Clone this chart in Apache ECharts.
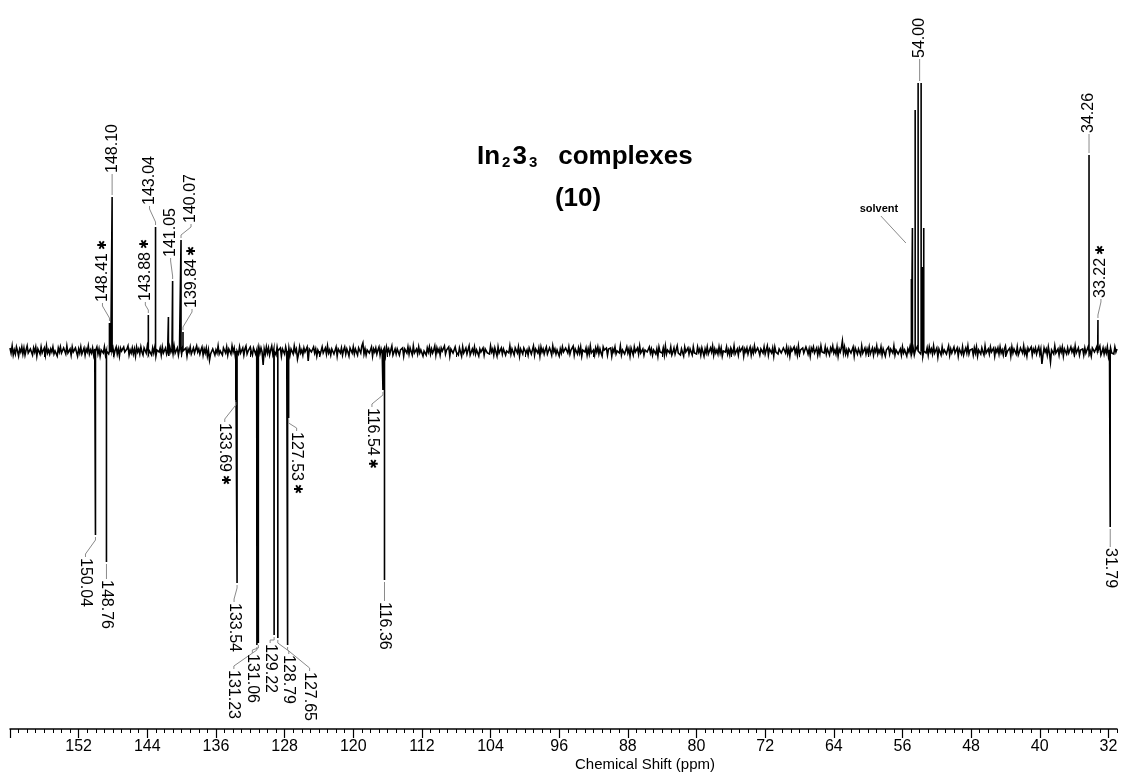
<!DOCTYPE html>
<html>
<head>
<meta charset="utf-8">
<title>In2 3_3 complexes (10) – 13C APT spectrum</title>
<script src="https://cdn.jsdelivr.net/npm/echarts@6/dist/echarts.min.js"></script>
<style>
  html, body { margin: 0; padding: 0; background: #fff; }
  #chart { width: 1121px; height: 781px; }
</style>
</head>
<body>
<div id="chart"></div>
<script>
// ---- chemical-shift axis (ppm) ----
const shiftMax = 160;
const shiftMin = 31;
const majorTicks = [160, 152, 144, 136, 128, 120, 112, 104, 96, 88, 80, 72, 64, 56, 48, 40, 32];
const mediumTicks = [156, 148, 140, 132, 124, 116, 108, 100, 92, 84, 76, 68, 60, 52, 44, 36];
const tickLabels = [152, 144, 136, 128, 120, 112, 104, 96, 88, 80, 72, 64, 56, 48, 40, 32];

// ---- resonances: position (ppm) and signed intensity (a.u., CH/CH3 negative) ----
const peakShift = [
  150.04, 148.76, 148.41, 148.10, 143.88, 143.04, 141.54, 141.05, 140.07, 139.84,
  133.69, 133.54, 131.23, 131.06, 129.22, 128.79, 127.65, 127.53, 116.54, 116.36,
  54.96, 54.84, 54.52, 54.175, 53.825, 53.64, 53.52,
  34.26, 33.22, 31.79
];
const peakIntensity = [
  -184, -211, 28, 154, 36, 124, 34, 70, 111, 19,
  -49, -232, -294, -292, -284, -287, -294, -67, -39, -229,
  72, 123, 241, 268, 268, 84, 123,
  196, 31, -176
];

// ---- baseline noise, sampled every 0.125 ppm from 160 ppm downwards (one row = 5 ppm) ----
const noiseStart = 160;
const noiseStep = 0.125;
const noise = [
  3,-2,5,-4,1,-3,4,0,-5,2,-1,4,-3,3,-4,1,5,-2,-3,2,0,-4,3,-1,4,-5,2,1,-3,4,-2,-1,3,-4,5,-2,1,-3,2,-1,
  4,-3,0,2,-5,3,-1,4,-2,-4,3,1,-3,5,-2,0,2,-4,4,-1,-3,3,1,-5,2,-2,4,-3,0,3,-4,2,-1,5,-3,1,-2,3,-4,2,
  -1,4,-3,2,-5,1,3,-2,4,-4,0,2,-3,5,-1,-2,3,-4,1,4,-3,2,-5,3,0,-2,4,-1,-3,2,5,-4,1,-2,3,-3,2,-5,4,-1,
  2,-3,4,-1,-4,3,1,-2,5,-3,0,2,-4,3,-2,4,-5,1,2,-1,3,-4,4,-2,0,3,-3,1,-5,4,-1,2,-3,5,-2,-1,3,-4,2,0,
  -3,4,-2,1,3,-5,2,-1,4,-3,0,3,-2,-4,5,-1,2,-3,1,4,-4,2,-2,3,-5,1,-9,-3,-1,2,3,-4,1,-2,5,-3,0,2,-4,3,
  1,-2,4,-4,2,0,-3,5,-1,3,-5,2,1,-3,4,-2,-1,3,-4,2,5,-3,0,-2,4,-1,-4,3,2,-3,1,-5,4,-2,3,-1,-14,2,-3,4,
  -2,3,-4,1,5,-3,2,-1,-4,4,0,-2,3,-5,2,1,-3,4,-1,-2,3,-4,2,0,-3,5,-1,2,-8,-3,4,-2,1,-4,3,-1,-2,4,-10,2,
  3,-1,-3,4,-2,2,-5,1,3,-4,0,4,-2,-1,3,-3,5,-2,1,-4,2,3,-3,-1,4,-5,2,0,-2,3,-4,1,4,-3,2,-1,-5,3,1,-2,
  4,-3,2,-1,-4,3,1,-2,5,8,-3,2,-4,1,3,-2,0,4,-5,2,-1,3,-3,1,4,-4,2,-2,0,3,-5,4,-1,2,-3,1,5,-4,-1,2,
  -3,2,4,-4,1,-1,3,-5,2,0,-2,4,-3,3,1,-4,5,-2,-1,2,-3,4,-2,1,3,-5,0,2,-4,3,-1,4,-3,2,-2,1,5,-4,3,-1,
  2,-4,3,0,-2,5,-3,1,-1,4,-5,2,3,-2,-3,4,-1,1,-4,3,2,-5,4,-2,0,3,-3,1,5,-4,-1,2,-2,4,-3,1,3,-5,2,-1,
  -1,3,-4,2,4,-2,0,-3,5,-1,2,-4,3,1,-5,4,-2,-1,3,-3,2,4,-4,0,1,-2,5,-3,2,-1,-4,3,1,-2,4,-5,2,0,-3,3,
  4,-2,1,-4,3,2,-3,-1,5,-4,2,0,-2,3,-5,4,-1,2,-3,1,4,-3,-2,3,0,-4,5,-1,2,-3,1,3,-5,2,-2,4,-1,-3,3,1,
  -2,4,-3,1,-1,5,-4,2,0,-3,3,-2,4,-5,1,2,-1,3,-4,2,-3,5,-2,0,1,-4,3,-1,4,-3,2,-2,-5,4,1,-1,3,-4,2,0,
  3,-5,2,-1,4,-3,0,2,-2,5,-4,1,3,-3,-1,4,-2,2,-5,3,1,-4,4,-1,-2,3,-3,5,-2,0,2,-4,1,3,-1,-3,4,-2,2,-4,
  1,3,-3,2,-5,4,-1,0,-2,3,-4,5,-3,1,2,-2,4,-4,-1,3,-3,1,5,-2,0,-4,2,3,-5,4,-1,-2,3,-3,2,1,-4,4,-2,0,
  -3,4,-1,2,-4,3,1,-5,2,-2,4,-3,0,3,-1,5,-4,2,-2,1,-3,4,-2,3,-5,0,2,-1,4,-3,1,-4,3,2,-2,5,-3,-1,2,-4,
  3,0,-2,4,-5,2,-1,3,-3,1,4,-4,2,-2,5,-1,-3,3,0,-4,2,1,-2,4,-3,-1,5,-4,2,0,-2,3,-5,4,-1,1,-3,2,3,-2,
  -4,3,1,-2,4,-3,2,-5,3,0,-1,4,-2,2,-4,5,-3,1,-1,3,-2,-4,4,1,-3,2,-5,3,0,4,-2,-1,3,-4,2,-3,5,-1,1,-2,
  4,-3,2,-1,-4,3,0,5,-2,1,-3,4,-5,2,-1,3,10,-2,4,-3,1,-4,2,3,-2,-1,4,-5,3,0,-3,2,1,-4,5,-2,-1,3,-3,2,
  -2,4,-3,0,3,-4,2,-1,5,-3,1,-2,4,-4,2,3,-5,1,-1,4,-3,2,0,-2,5,-4,1,3,-3,-1,2,-4,4,-2,1,3,-5,2,-1,4,
  -3,1,3,-4,2,-2,5,-1,0,-3,4,-5,2,1,-2,3,-4,4,-1,2,-3,5,-2,-1,3,-6,2,0,-4,4,-2,1,3,-3,-1,5,-4,2,-2,1,
  4,-2,-1,3,-5,2,1,-3,4,-4,0,3,-2,5,-3,1,-1,2,-4,3,-2,4,-5,1,2,-3,3,-1,-4,5,-2,0,2,-3,4,-1,-2,3,-5,2,
  -1,3,-3,4,-2,1,-4,2,5,-3,0,-1,3,-5,4,-2,2,1,-3,4,-4,-1,3,2,-2,5,-3,1,-5,3,0,-2,4,-4,2,-1,3,-3,1,4,
  -3,2,-13,-4,3,-1,2,-4,4,-2,-11,1,3,-3,5,-2,0,2,-4,3,-1,4,-5,2,1,-3,3,-2,-4,4,-1,2,-3,5,-2,0,3,-4,1,-1,
  2,-4,3,-2,1,4,-3,0,-5,3,2,-1,-3,4,-2,1,5,-4,-1,3,-3,2,-2,4,-5,1,3,-2,0,-3,4,-1,2
];

// ---- peak labels (a trailing * marks the minor isomer) ----
const peakLabels = [
  '150.04', '148.76', '148.41*', '148.10', '143.88*', '143.04', '141.05', '140.07', '139.84*',
  '133.69*', '133.54', '131.23', '131.06', '129.22', '128.79', '127.65', '127.53*',
  '116.54*', '116.36', '54.00', '34.26', '33.22*', '31.79'
];
// label placement: [horizontal shift of the label column, distance from peak tip] in px
const labelLayout = [
  [-10, 23], [0, 18], [-7, 21], [0, 24], [-3, 14], [-6, 22], [-2, 24], [10, 17], [9, 24],
  [-11, 23], [-3, 20], [-23, 25], [-6, 11], [-4, 9], [11, 17], [22, 27], [8, 14],
  [-11, 18], [0, 22], [0, 25], [0, 22], [3, 22], [0, 21]
];

// spectrum polyline: noise samples plus one vertical spike per resonance
const spectrum = noise.map((v, i) => [noiseStart - i * noiseStep, v]);
peakShift.forEach((p, i) => {
  spectrum.push([p, 0], [p, peakIntensity[i]], [p, 0]);
});
spectrum.sort((a, b) => b[0] - a[0]);

// tip intensity for a label: the resonance nearest to the quoted shift
function tipIntensity(ppm) {
  let bestIdx = 0, bestDist = Infinity;
  peakShift.forEach((p, i) => {
    const d = Math.abs(p - ppm);
    if (d < bestDist - 1e-9) { bestDist = d; bestIdx = i; }
  });
  return peakIntensity[bestIdx];
}
const labelData = peakLabels.map((t, i) => {
  const ppm = parseFloat(t);
  return [ppm, tipIntensity(ppm), i];
});

// solvent (CD2Cl2) note: anchor in data space left of the multiplet
const solventNote = { text: 'solvent', ppm: 55.6, level: 108 };

const FONT = '"Liberation Sans", Arial, Helvetica, sans-serif';

const chart = echarts.init(document.getElementById('chart'), null, { renderer: 'canvas' });

const tickAxisBase = {
  type: 'value', inverse: true, min: shiftMin, max: shiftMax, position: 'bottom',
  axisLine: { show: false }, axisLabel: { show: false }, splitLine: { show: false }
};

chart.setOption({
  animation: false,
  backgroundColor: '#ffffff',
  grid: { left: 10, right: 4, top: 29, bottom: 52 },
  xAxis: [
    {
      type: 'value', inverse: true, min: shiftMin, max: shiftMax, position: 'bottom',
      axisLine: { show: true, onZero: false, lineStyle: { color: '#000', width: 1.5 } },
      axisTick: { show: true, customValues: majorTicks, length: 9, lineStyle: { color: '#000', width: 1.2 } },
      axisLabel: { customValues: tickLabels, color: '#000', fontSize: 16, fontFamily: FONT, margin: 10 },
      splitLine: { show: false }
    },
    Object.assign({}, tickAxisBase, {
      axisTick: { show: true, customValues: mediumTicks, length: 6, lineStyle: { color: '#000', width: 1 } }
    }),
    Object.assign({}, tickAxisBase, {
      interval: 1,
      axisTick: { show: true, length: 4, lineStyle: { color: '#000', width: 1 } }
    })
  ],
  yAxis: { type: 'value', min: -378, max: 322, show: false },
  graphic: [
    {
      type: 'text', x: 477, y: 156,
      style: {
        text: '{a|In}{s|2}{a|3}{s|3}{b|complexes}',
        align: 'left', verticalAlign: 'middle', fill: '#000',
        rich: {
          a: { fontFamily: FONT, fontSize: 26, fontWeight: 'bold', verticalAlign: 'bottom', lineHeight: 28 },
          s: { fontFamily: FONT, fontSize: 15, fontWeight: 'bold', verticalAlign: 'bottom', lineHeight: 8, padding: [0, 2, 0, 2] },
          b: { fontFamily: FONT, fontSize: 26, fontWeight: 'bold', verticalAlign: 'bottom', lineHeight: 28, padding: [0, 0, 0, 19] }
        }
      }
    },
    {
      type: 'text', x: 578, y: 199,
      style: { text: '(10)', align: 'center', verticalAlign: 'middle', fill: '#000', fontFamily: FONT, fontSize: 26, fontWeight: 'bold' }
    },
    {
      type: 'text', x: 645, y: 765,
      style: { text: 'Chemical Shift (ppm)', align: 'center', verticalAlign: 'middle', fill: '#000', fontFamily: FONT, fontSize: 15 }
    }
  ],
  series: [
    {
      name: 'spectrum', type: 'line', xAxisIndex: 0, data: spectrum,
      showSymbol: false, symbol: 'none', smooth: false,
      lineStyle: { color: '#000', width: 1.6, join: 'miter' },
      silent: true, z: 2
    },
    {
      name: 'peak labels', type: 'custom', xAxisIndex: 0, data: labelData,
      encode: { x: 0, y: 1 }, silent: true, clip: false, z: 3,
      renderItem: function (params, api) {
        const i = api.value(2);
        const tip = api.coord([api.value(0), api.value(1)]);
        const up = api.value(1) > 0;
        const s = up ? -1 : 1;
        const dx = labelLayout[i][0], gap = labelLayout[i][1];
        const lx = tip[0] + dx;
        const ty = tip[1] + s * gap;
        const pts = dx === 0
          ? [[tip[0], tip[1] + s * 2], [lx, ty - s * 1]]
          : [[tip[0], tip[1] + s * 2], [tip[0], tip[1] + s * 5], [lx, ty - s * 4], [lx, ty - s * 1]];
        const raw = peakLabels[i];
        const starred = raw.endsWith('*');
        return {
          type: 'group',
          children: [
            { type: 'polyline', shape: { points: pts }, style: { stroke: '#8a8a8a', lineWidth: 1, fill: null } },
            {
              type: 'text', x: lx, y: ty, rotation: up ? Math.PI / 2 : -Math.PI / 2,
              style: {
                text: starred ? raw.slice(0, -1) + '{st|✱}' : raw,
                fill: '#000', fontFamily: FONT, fontSize: 16,
                align: 'left', verticalAlign: 'middle',
                rich: { st: { fontFamily: '"DejaVu Sans"', fontSize: 12, fontWeight: 'bold', fill: '#000', padding: [0, 0, 0, 3] } }
              }
            }
          ]
        };
      }
    },
    {
      name: 'solvent note', type: 'custom', xAxisIndex: 0,
      data: [[solventNote.ppm, solventNote.level]],
      encode: { x: 0, y: 1 }, silent: true, clip: false, z: 3,
      renderItem: function (params, api) {
        const a = api.coord([api.value(0), api.value(1)]);
        return {
          type: 'group',
          children: [
            { type: 'line', shape: { x1: a[0] - 25, y1: a[1] - 27, x2: a[0], y2: a[1] }, style: { stroke: '#8a8a8a', lineWidth: 1 } },
            {
              type: 'text', x: a[0] - 27, y: a[1] - 34,
              style: { text: solventNote.text, fill: '#000', fontFamily: FONT, fontSize: 11, fontWeight: 'bold', align: 'center', verticalAlign: 'middle' }
            }
          ]
        };
      }
    }
  ]
});
</script>
</body>
</html>
